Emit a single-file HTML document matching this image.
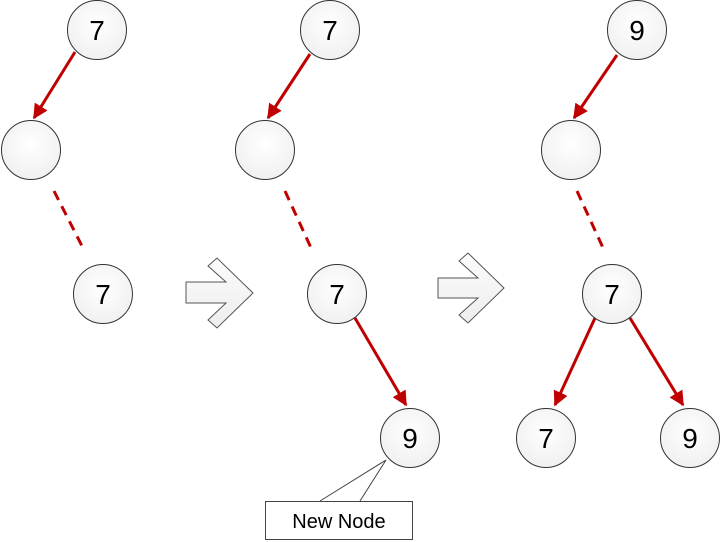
<!DOCTYPE html>
<html><head><meta charset="utf-8"><style>
html,body{margin:0;padding:0;background:#fff;}
svg{display:block;}
text{font-family:"Liberation Sans",sans-serif;}
</style></head><body>
<svg width="723" height="542" viewBox="0 0 723 542" xmlns="http://www.w3.org/2000/svg">
<defs>
<radialGradient id="g" cx="50%" cy="40%" r="60%"><stop offset="0" stop-color="#ffffff"/><stop offset="1" stop-color="#f0f0f0"/></radialGradient>
<linearGradient id="ag" x1="0" y1="0" x2="0" y2="1"><stop offset="0" stop-color="#fbfbfb"/><stop offset="1" stop-color="#eeeeee"/></linearGradient>
<marker id="ah" viewBox="0 0 10 10" refX="9" refY="5" markerWidth="5" markerHeight="5" orient="auto" markerUnits="strokeWidth"><path d="M0,0 L10,5 L0,10 z" fill="#c00000"/></marker>
</defs>
<g stroke="#c00000" stroke-width="3" fill="none">
<line x1="75" y1="52" x2="34" y2="118" marker-end="url(#ah)"/>
<line x1="310" y1="54" x2="268" y2="118" marker-end="url(#ah)"/>
<line x1="617" y1="55" x2="574" y2="118" marker-end="url(#ah)"/>
<line x1="355" y1="318" x2="406" y2="405" marker-end="url(#ah)"/>
<line x1="595" y1="318" x2="555" y2="405" marker-end="url(#ah)"/>
<line x1="630" y1="318" x2="683" y2="405" marker-end="url(#ah)"/>
</g>
<g stroke="#c00000" stroke-width="3" stroke-dasharray="10,7" fill="none">
<line x1="54" y1="191" x2="84" y2="250"/>
<line x1="285" y1="191" x2="312" y2="250"/>
<line x1="577" y1="191" x2="604" y2="250"/>
</g>
<g stroke="#333" stroke-width="1" fill="url(#g)">
<circle cx="97" cy="30" r="29.5"/>
<circle cx="31" cy="150" r="29.5"/>
<circle cx="103" cy="294" r="29.5"/>
<circle cx="330" cy="30" r="29.5"/>
<circle cx="265" cy="150" r="29.5"/>
<circle cx="337" cy="294" r="29.5"/>
<circle cx="410" cy="438" r="29.5"/>
<circle cx="637" cy="30" r="29.5"/>
<circle cx="571" cy="150" r="29.5"/>
<circle cx="612" cy="294" r="29.5"/>
<circle cx="546" cy="438" r="29.5"/>
<circle cx="690" cy="438" r="29.5"/>
</g>
<g font-size="28" text-anchor="middle" fill="#000">
<text x="97" y="40">7</text>
<text x="103" y="304">7</text>
<text x="330" y="40">7</text>
<text x="337" y="304">7</text>
<text x="410" y="448">9</text>
<text x="637" y="40">9</text>
<text x="612" y="304">7</text>
<text x="546" y="448">7</text>
<text x="690" y="448">9</text>
</g>
<g stroke="#555" stroke-width="1" fill="url(#ag)">
<polygon points="186,282 226,282 208,266 217,258 253,293 217,328 208,320 226,303 186,303"/>
<polygon points="438,278 478,278 459,261 468,253 504,288 468,323 459,315 478,298 438,298"/>
</g>
<g stroke="#444" stroke-width="1" fill="none">
<polyline points="320,501 386,460 360,501"/>
</g>
<rect x="265.5" y="501.5" width="147" height="38" fill="#fff" stroke="#444" stroke-width="1"/>
<text x="339" y="528" font-size="20" text-anchor="middle" fill="#000">New Node</text>
</svg>
</body></html>
